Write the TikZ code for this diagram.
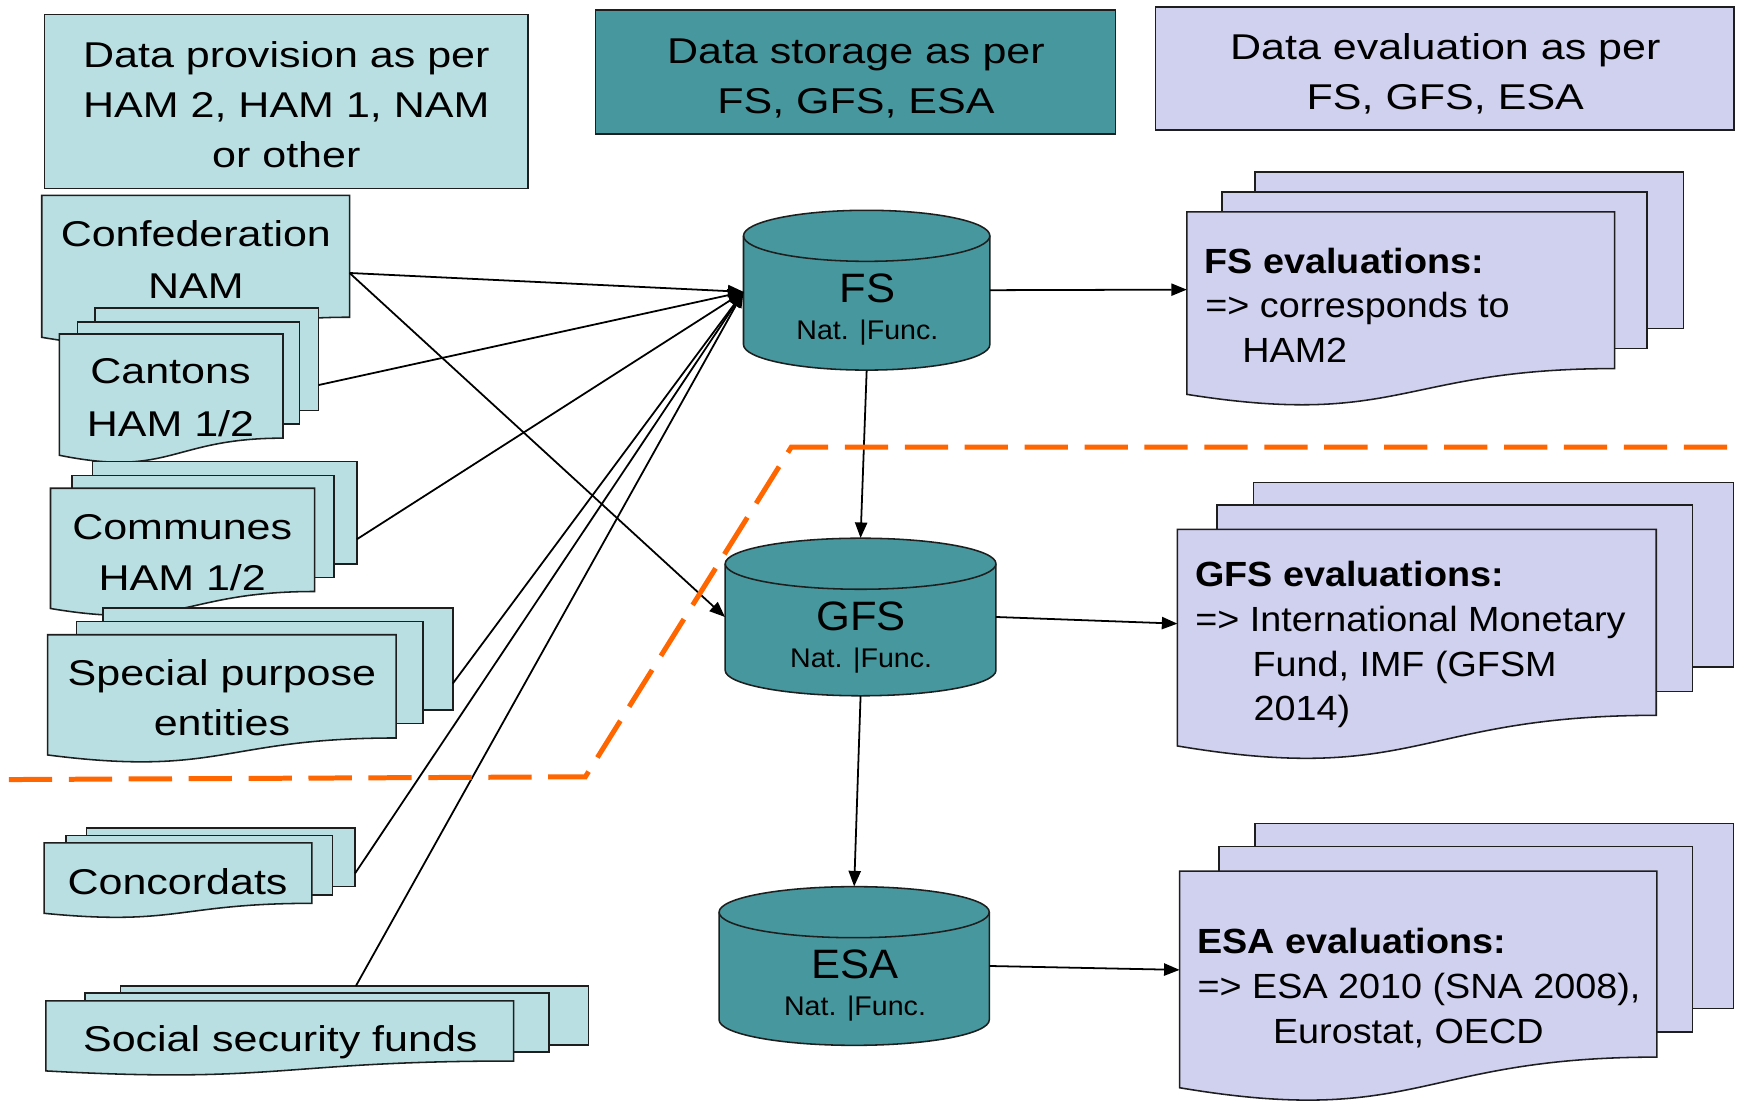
\documentclass[tikz,border=0pt]{standalone}
\usepackage{fontspec}
\setmainfont{Liberation Sans}
\newfontfamily\hfont{Liberation Sans}[FakeStretch=1.2]
\newfontfamily\efont{Liberation Sans}[FakeStretch=1.08]
\newfontfamily\cfont{Liberation Sans}[FakeStretch=1.06]
\usetikzlibrary{arrows.meta}
\definecolor{cyanL}{HTML}{B9DFE2}
\definecolor{tealC}{HTML}{46979E}
\definecolor{lavC}{HTML}{D0D0EF}
\definecolor{orangeC}{HTML}{FF6600}
\definecolor{lineC}{HTML}{1E1E1E}
% document page with wavy bottom: x1, top, x2, H, fill
\newcommand\docpg[5]{\filldraw[pg, fill=#5] (#1,#2) -- (#3,#2) -- (#3,{#2+0.802*#4}) .. controls ({(#1+#3)/2},{#2+0.802*#4}) and ({(#1+#3)/2},{#2+1.1075*#4}) .. (#1,{#2+0.934*#4}) -- cycle;}
% back page: x1, top, x2, bottom, fill
\newcommand\backpg[5]{\filldraw[pg, fill=#5] (#1,#2) rectangle (#3,#4);}
% cylinder: x1, x2, top, bottom, rx, ry
\newcommand\cylshape[6]{%
 \filldraw[pg, fill=tealC] (#1,{#3+#6}) -- (#1,{#4-#6}) arc[start angle=180,end angle=360,x radius=#5pt,y radius=#6pt] -- (#2,{#3+#6}) arc[start angle=0,end angle=180,x radius=#5pt,y radius=#6pt] -- cycle;
 \draw[pg] (#1,{#3+#6}) arc[start angle=180,end angle=360,x radius=#5pt,y radius=#6pt];}
\begin{document}
\begin{tikzpicture}[x=1pt,y=-1pt,
  pg/.style={draw=lineC, line width=1.4pt},
  hdrbox/.style={draw=lineC, line width=1.4pt, inner sep=0pt},
  cylbox/.style={inner sep=0pt, draw=none},
  htxt/.style={font=\hfont\fontsize{32.3}{38}\selectfont, inner sep=0pt, anchor=base},
  ctxt/.style={font=\cfont\fontsize{37}{42}\selectfont, inner sep=0pt, anchor=base},
  csub/.style={font=\cfont\fontsize{24.3}{28}\selectfont, inner sep=0pt, anchor=base},
  etxt/.style={font=\efont\fontsize{31.5}{36}\selectfont, inner sep=0pt, anchor=base west},
  ebold/.style={etxt, font=\efont\bfseries\fontsize{31.5}{36}\selectfont},
  arr/.style={draw=black, line width=1.6pt, -{Triangle[length=14pt,width=11pt]}},
  sep/.style={draw=orangeC, line width=4.5pt, dash pattern=on 39pt off 15pt}]
\fill[white] (0,0) rectangle (1568,992);
\useasboundingbox (0,0) rectangle (1568,992);

% header boxes
\node[hdrbox, fill=cyanL, minimum width=436pt, minimum height=157pt] (hdr1) at (258,91.5) {};
\node[hdrbox, fill=tealC, minimum width=468.5pt, minimum height=112pt] (hdr2) at (771,65) {};
\node[hdrbox, fill=lavC, minimum width=521.5pt, minimum height=111pt] (hdr3) at (1302,61.6) {};
\node[htxt] (h1a) at (258,60.5) {Data provision as per};
\node[htxt] (h1b) at (258,105.5) {HAM 2, HAM 1, NAM};
\node[htxt] (h1c) at (258,150.5) {or other};
\node[htxt] (h2a) at (771.3,57) {Data storage as per};
\node[htxt] (h2b) at (771.3,102.5) {FS, GFS, ESA};
\node[htxt] (h3a) at (1302.4,53.5) {Data evaluation as per};
\node[htxt] (h3b) at (1302.4,99) {FS, GFS, ESA};

% left document stacks
\docpg{37.6}{176}{315}{137}{cyanL}
\backpg{85.6}{277.6}{287}{370}{cyanL}
\backpg{70}{290}{270}{382}{cyanL}
\docpg{53.5}{301}{255}{117}{cyanL}
\backpg{83.5}{416}{321.5}{508}{cyanL}
\backpg{64.8}{428.4}{301}{520.5}{cyanL}
\docpg{45.5}{440}{283.5}{116}{cyanL}
\backpg{93}{548}{408}{640}{cyanL}
\backpg{69}{560}{381}{652}{cyanL}
\docpg{43}{572}{357}{116}{cyanL}
\backpg{78}{746}{320}{799}{cyanL}
\backpg{59.5}{753}{299.5}{806.5}{cyanL}
\docpg{39.7}{759.5}{281}{68}{cyanL}
\backpg{108.6}{888.5}{530.4}{941.7}{cyanL}
\backpg{76.6}{895}{494.9}{948}{cyanL}
\docpg{41.4}{902}{462.8}{67.5}{cyanL}

\node[htxt] (conf1) at (176.5,222.3) {Confederation};
\node[htxt] (conf2) at (176.5,268.8) {NAM};
\node[htxt] (cant1) at (153.6,346) {Cantons};
\node[htxt] (cant2) at (153.6,393.5) {HAM 1/2};
\node[htxt] (comm1) at (164.2,486.6) {Communes};
\node[htxt] (comm2) at (164.2,532) {HAM 1/2};
\node[htxt] (spe1) at (200,618) {Special purpose};
\node[htxt] (spe2) at (200,662.5) {entities};
\node[htxt] (conc1) at (160,805.7) {Concordats};
\node[htxt] (soc1) at (252.6,947.4) {Social security funds};

\coordinate (conf-o) at (315,246);
\coordinate (cant-o) at (287,347);
\coordinate (comm-o) at (321.5,486);
\coordinate (spe-o) at (408,616);
\coordinate (conc-o) at (320,787);
\coordinate (soc-o) at (320.7,888.5);

% cylinders
\cylshape{670}{892}{189.5}{333.5}{111}{23}
\node[cylbox, minimum width=222pt, minimum height=144pt] (fs) at (781,261.5) {};
\cylshape{653.5}{897.5}{485}{627}{122}{23}
\node[cylbox, minimum width=244pt, minimum height=142pt] (gfs) at (775.5,556) {};
\cylshape{648}{891.5}{799}{942}{121.75}{23}
\node[cylbox, minimum width=243.5pt, minimum height=143pt] (esa) at (769.75,870.5) {};
\node[ctxt] (fs-t) at (781.9,272.7) {FS};
\node[csub] (fs-s) at (781.6,305.8) {Nat. |Func.};
\node[ctxt] (gfs-t) at (776,568.2) {GFS};
\node[csub] (gfs-s) at (776,601.3) {Nat. |Func.};
\node[ctxt] (esa-t) at (770.5,882.2) {ESA};
\node[csub] (esa-s) at (770.5,915.3) {Nat. |Func.};
\coordinate (fs-in) at (670,263);

% evaluation stacks
\backpg{1131}{155}{1517}{296}{lavC}
\backpg{1101}{173}{1484}{314}{lavC}
\docpg{1069.5}{191}{1455}{176}{lavC}
\backpg{1129.5}{435}{1562}{601}{lavC}
\backpg{1096.5}{455}{1525}{623}{lavC}
\docpg{1061}{477}{1492.5}{209}{lavC}
\backpg{1131}{742}{1562}{909}{lavC}
\backpg{1098.5}{763}{1525}{930}{lavC}
\docpg{1063}{785}{1493}{209}{lavC}

\node[ebold] (fse1) at (1085.5,246.3) {FS evaluations:};
\node[etxt] (fse2) at (1086,286.5) {=> corresponds to};
\node[etxt] (fse3) at (1119.3,326.8) {HAM2};
\node[ebold] (gfse1) at (1077,528.3) {GFS evaluations:};
\node[etxt] (gfse2) at (1077,568.8) {=> International Monetary};
\node[etxt] (gfse3) at (1128.5,609.2) {Fund, IMF (GFSM};
\node[etxt] (gfse4) at (1129.5,649.6) {2014)};
\node[ebold] (esae1) at (1079,859.3) {ESA evaluations:};
\node[etxt] (esae2) at (1079,899.7) {=> ESA 2010 (SNA 2008),};
\node[etxt] (esae3) at (1147,940) {Eurostat, OECD};

\coordinate (fse-i) at (1069.5,261);
\coordinate (gfse-i) at (1061,562);
\coordinate (esae-i) at (1063,874);

% connectors
\draw[arr] (conf-o) -- (fs-in);
\draw[arr] (cant-o) -- (fs-in);
\draw[arr] (comm-o) -- (fs-in);
\draw[arr] (spe-o) -- (fs-in);
\draw[arr] (conc-o) -- (fs-in);
\draw[arr] (soc-o) -- (fs-in);
\draw[arr] (conf-o) -- (gfs.west);
\draw[arr] (fs.south) -- (gfs.north);
\draw[arr] (gfs.south) -- (esa.north);
\draw[arr] (fs.east) -- (fse-i);
\draw[arr] (gfs.east) -- (gfse-i);
\draw[arr] (esa.east) -- (esae-i);

% orange separator
\draw[sep] (8,702.5) -- (527.5,700) -- (713,403) -- (1568,403);
\end{tikzpicture}
\end{document}
